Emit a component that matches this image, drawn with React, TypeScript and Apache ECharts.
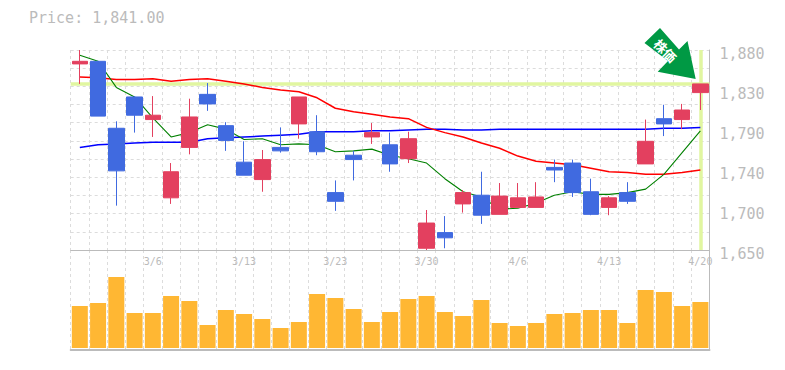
import React, { useEffect, useRef } from "react";
import * as echarts from "echarts";

const dates = [
  "3/2","3/3","3/4","3/5","3/6","3/9","3/10","3/11","3/12","3/13",
  "3/16","3/17","3/18","3/19","3/23","3/24","3/25","3/26","3/27","3/30",
  "3/31","4/1","4/2","4/3","4/6","4/7","4/8","4/9","4/10","4/13",
  "4/14","4/15","4/16","4/17","4/20",
];
const opens = [1864,1867,1790,1826,1800,1710,1768,1829,1793,1751,1731,1768,1795,1786,1716,1759,1780,1771,1755,1652,1670,1703,1713,1691,1699,1699,1745,1750,1717,1699,1716,1749,1801,1800,1831];
const closes = [1867,1804,1741,1805,1805,1740,1803,1818,1776,1736,1754,1764,1826,1763,1706,1754,1785,1749,1778,1681,1664,1716,1690,1712,1710,1711,1742,1716,1691,1710,1706,1775,1795,1811,1841];
const lows = [1841,1804,1701,1785,1780,1703,1760,1810,1764,1736,1717,1762,1778,1759,1695,1730,1772,1740,1750,1650,1652,1693,1680,1691,1699,1699,1728,1711,1690,1690,1703,1749,1781,1789,1811];
const highs = [1880,1867,1798,1827,1827,1750,1824,1842,1797,1775,1765,1791,1826,1805,1730,1764,1796,1785,1786,1696,1689,1719,1740,1727,1727,1728,1754,1754,1732,1712,1728,1800,1817,1818,1841];
const maShort = [1874,1867,1837,1826,1802,1780,1785,1794,1789,1777,1778,1771,1772,1771,1763,1764,1766,1759,1755,1750,1732,1717,1711,1697,1698,1704,1713,1717,1714,1714,1716,1720,1737,1762,1787];
const maMid = [1849,1848,1846,1846,1847,1844,1846,1847,1844,1841,1837,1834,1832,1825,1813,1809,1806,1803,1801,1791,1785,1780,1773,1767,1758,1752,1750,1748,1744,1740,1739,1737,1737,1739,1742];
const maLong = [1768,1771,1772,1773,1774,1774,1774,1778,1779,1780,1781,1782,1783,1786,1786,1786,1787,1787,1788,1789,1789,1788,1788,1789,1789,1789,1789,1789,1789,1789,1789,1789,1790,1790,1791];
const volumes = [42,45,71,35,35,52,47,23,38,34,29,20,26,54,50,39,26,36,49,52,36,32,48,25,22,25,34,35,38,38,25,58,56,42,46];
const priceTicks = [1650,1696,1742,1788,1834,1880];
const priceTickLabels = ["1,650","1,700","1,740","1,790","1,830","1,880"];
const lastPrice = 1841;
const titleText = "Price: 1,841.00";
const arrowText = "株価";

const GRAY = "#bbbbbb";
const GRID = "#dcdcdc";
const MONO = "'DejaVu Sans Mono', monospace";
const BAND = "#e1f6a0";
const LEFT = 70.7;
const WIDTH = 638.8;

const dashed = { show: true, lineStyle: { color: GRID, width: 1, type: [3, 3] as any } };

export default function App() {
  const ref = useRef<HTMLDivElement>(null);
  useEffect(() => {
    document.body.style.margin = "0";
    const chart = echarts.init(ref.current!, null, { renderer: "svg" });
    const candle = dates.map((_, i) => [opens[i], closes[i], lows[i], highs[i]]);
    const line = (data: number[], color: string, width: number) => ({
      type: "line", data, xAxisIndex: 0, yAxisIndex: 0, symbol: "none", silent: true, z: 2,
      lineStyle: { color, width },
    });
    chart.setOption({
      animation: false,
      backgroundColor: "#ffffff",
      title: {
        text: titleText, left: 24, top: 5,
        textStyle: { color: GRAY, fontFamily: MONO, fontSize: 15, fontWeight: "normal" },
      },
      grid: [
        { left: LEFT, top: 50, width: WIDTH, height: 200 },
        { left: LEFT, top: 250, width: WIDTH, height: 100 },
        { left: LEFT, top: 54, width: WIDTH, height: 200 },
      ],
      xAxis: [
        {
          type: "category", gridIndex: 0, data: dates, boundaryGap: true,
          axisLine: { show: true, onZero: false, lineStyle: { color: GRAY, width: 1 } },
          axisTick: { show: false },
          axisLabel: {
            interval: (i: number) => i % 5 === 4,
            color: GRAY, fontFamily: MONO, fontSize: 10, margin: 6, hideOverlap: false,
          },
          splitLine: { ...dashed, interval: 0 },
        },
        {
          type: "category", gridIndex: 1, data: dates, boundaryGap: true,
          axisLine: { show: true, onZero: false, lineStyle: { color: GRAY, width: 2 } },
          axisTick: { show: false }, axisLabel: { show: false },
          splitLine: { ...dashed, interval: 0 },
        },
        {
          type: "category", gridIndex: 2, data: dates, show: false,
        },
      ],
      yAxis: [
        {
          type: "value", gridIndex: 0, position: "right", min: 1650, max: 1880, scale: true,
          axisLine: { show: true, onZero: false, lineStyle: { color: GRAY, width: 1 } },
          axisTick: { show: false },
          splitLine: { show: false },
          axisLabel: { show: false },
        },
        {
          type: "value", gridIndex: 0, position: "left", min: 0, max: 11, interval: 1,
          axisLine: { show: false }, axisTick: { show: false }, axisLabel: { show: false },
          splitLine: dashed,
        },
        {
          type: "value", gridIndex: 1, position: "right", min: -2, max: 98,
          axisLine: { show: true, onZero: false, lineStyle: { color: GRAY, width: 1 } },
          axisTick: { show: false }, axisLabel: { show: false }, splitLine: { show: false },
        },
        {
          type: "value", gridIndex: 2, position: "right", min: 1650, max: 1880, scale: true,
          axisLine: { show: false }, axisTick: { show: false }, splitLine: { show: false },
          axisLabel: {
            customValues: priceTicks,
            formatter: (v: number) => priceTickLabels[priceTicks.indexOf(v)] ?? "",
            color: GRAY, fontFamily: MONO, fontSize: 15, margin: 10,
            showMinLabel: true, showMaxLabel: true,
          },
        },
      ],
      series: [
        {
          type: "line", data: [], xAxisIndex: 0, yAxisIndex: 0, symbol: "none", silent: true, z: 1,
          markLine: {
            z: 1, silent: true, symbol: "none", animation: false, label: { show: false },
            lineStyle: { color: BAND, width: 3.5, type: "solid" },
            data: [{ yAxis: lastPrice }, { xAxis: dates.length - 1 }],
          },
        },
        line(maLong, "#0000ff", 1.5),
        line(maMid, "#ff0000", 1.5),
        line(maShort, "#008000", 1.1),
        {
          type: "candlestick", data: candle, xAxisIndex: 0, yAxisIndex: 0, barWidth: 16, z: 3, silent: true,
          itemStyle: {
            color: "#e3405f", color0: "#406ae0", borderColor: "#e3405f", borderColor0: "#406ae0", borderWidth: 1,
          },
        },
        {
          type: "bar", data: volumes, xAxisIndex: 1, yAxisIndex: 2, barWidth: 16, silent: true,
          itemStyle: { color: "#ffb733" },
        },
      ],
      graphic: [
        {
          type: "polygon", z: 100,
          shape: {
            points: [[660, 28], [679, 49.5], [687.5, 41], [695.7, 79], [657.7, 71.7], [668, 61], [644.5, 43]],
          },
          style: { fill: "#009944" },
        },
        {
          type: "text", z: 101, x: 665.5, y: 50.5, rotation: -Math.PI / 4,
          style: {
            text: arrowText, fill: "#ffffff", align: "center", verticalAlign: "middle",
            font: "bold 13px 'Noto Sans CJK JP'",
          },
        },
      ],
    });
    return () => chart.dispose();
  }, []);
  return <div ref={ref} style={{ position: "fixed", left: 0, top: 0, width: 785, height: 370 }} />;
}
